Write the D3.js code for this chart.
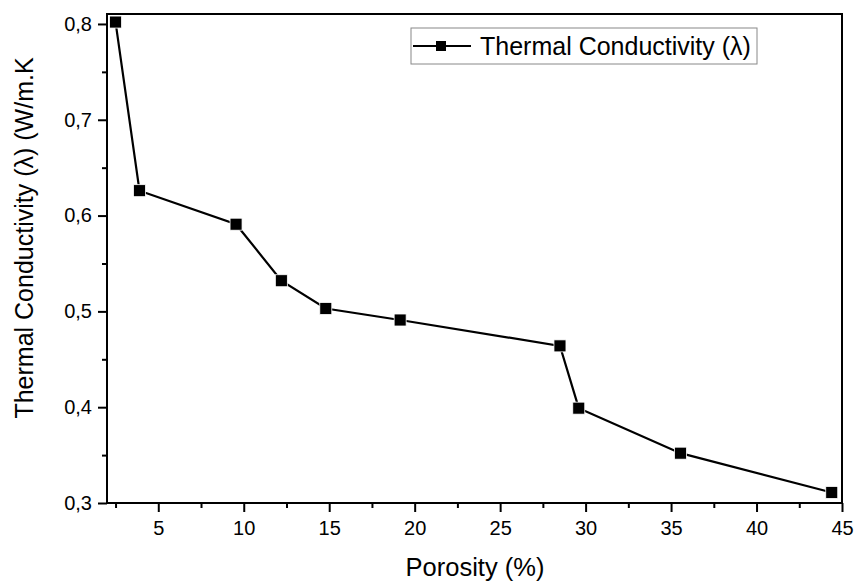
<!DOCTYPE html>
<html>
<head>
<meta charset="utf-8">
<script src="https://cdn.jsdelivr.net/npm/d3@7"></script>
<style>
  body { margin: 0; background: #fff; }
  text { font-family: "Liberation Sans", Arial, sans-serif; fill: #000; }
</style>
</head>
<body>
<div id="chart"></div>
<script>
// data
var porosity = [2.5, 3.9, 9.55, 12.2, 14.8, 19.15, 28.5, 29.6, 35.55, 44.4];
var conductivity = [0.802, 0.626, 0.591, 0.532, 0.503, 0.491, 0.464, 0.399, 0.352, 0.311];
var xTicks = [5, 10, 15, 20, 25, 30, 35, 40, 45];
var yTicks = [0.3, 0.4, 0.5, 0.6, 0.7, 0.8];
var seriesName = "Thermal Conductivity (\u03bb)";

var svgWidth = 856;
var svgHeight = 581;
var margin = { top: 14, right: 14, bottom: 78, left: 107 };
var width = svgWidth - margin.left - margin.right;
var height = svgHeight - margin.top - margin.bottom;

var data = porosity.map(function(p, i) { return { x: p, y: conductivity[i] }; });

var svg = d3.select("#chart")
  .append("svg")
  .attr("width", svgWidth)
  .attr("height", svgHeight);

var chartGroup = svg.append("g")
  .attr("transform", `translate(${margin.left}, ${margin.top})`);

var xScale = d3.scaleLinear().domain([2, 45]).range([0, width]);
var yScale = d3.scaleLinear().domain([0.3, 0.8104]).range([height, 0]);

var fmt = function(d) { return d3.format(".1f")(d).replace(".", ","); };

// minor ticks
var xMinor = d3.range(2.5, 45, 2.5).filter(function(v) { return v % 5 !== 0; });
var yMinor = d3.range(0.35, 0.81, 0.1);

chartGroup.append("g")
  .attr("transform", `translate(0, ${height})`)
  .call(d3.axisBottom(xScale).tickValues(xMinor).tickSize(5).tickFormat(""))
  .call(g => g.select(".domain").remove())
  .selectAll("line").attr("stroke-width", 2);

chartGroup.append("g")
  .call(d3.axisLeft(yScale).tickValues(yMinor).tickSize(5).tickFormat(""))
  .call(g => g.select(".domain").remove())
  .selectAll("line").attr("stroke-width", 2);

// major axes
var xAxis = chartGroup.append("g")
  .attr("transform", `translate(0, ${height})`)
  .call(d3.axisBottom(xScale).tickValues(xTicks).tickSize(9).tickPadding(9).tickSizeOuter(0));
xAxis.selectAll("line").attr("stroke-width", 2);
xAxis.selectAll("text").attr("font-size", 20).style("font-family", "Liberation Sans, Arial, sans-serif");
xAxis.select(".domain").remove();

var yAxis = chartGroup.append("g")
  .call(d3.axisLeft(yScale).tickValues(yTicks).tickSize(9).tickPadding(6).tickFormat(fmt).tickSizeOuter(0));
yAxis.selectAll("line").attr("stroke-width", 2);
yAxis.selectAll("text").attr("font-size", 20).style("font-family", "Liberation Sans, Arial, sans-serif");
yAxis.select(".domain").remove();

// frame
chartGroup.append("rect")
  .attr("x", 0)
  .attr("y", 0)
  .attr("width", width)
  .attr("height", height)
  .attr("fill", "none")
  .attr("stroke", "#000")
  .attr("stroke-width", 2);

// line and markers
var line = d3.line().x(d => xScale(d.x)).y(d => yScale(d.y));

chartGroup.append("path")
  .datum(data)
  .attr("d", line)
  .attr("fill", "none")
  .attr("stroke", "#000")
  .attr("stroke-width", 2.2);

chartGroup.selectAll("rect.marker")
  .data(data)
  .enter()
  .append("rect")
  .attr("class", "marker")
  .attr("x", d => xScale(d.x) - 6)
  .attr("y", d => yScale(d.y) - 6)
  .attr("width", 12)
  .attr("height", 12)
  .attr("fill", "#000")
  .attr("stroke", "#fff")
  .attr("stroke-width", 0.8);

// legend
var legend = svg.append("g").attr("transform", "translate(411, 28)");
legend.append("rect")
  .attr("width", 346)
  .attr("height", 36)
  .attr("fill", "#fff")
  .attr("stroke", "#888")
  .attr("stroke-width", 1);
legend.append("line")
  .attr("x1", 2).attr("x2", 60)
  .attr("y1", 18).attr("y2", 18)
  .attr("stroke", "#000").attr("stroke-width", 2);
legend.append("rect")
  .attr("x", 25).attr("y", 13)
  .attr("width", 10).attr("height", 10)
  .attr("fill", "#000");
legend.append("text")
  .attr("x", 69)
  .attr("y", 27)
  .attr("font-size", 25)
  .text(seriesName);

// axis labels
svg.append("text")
  .attr("x", 475)
  .attr("y", 576)
  .attr("text-anchor", "middle")
  .attr("font-size", 25.5)
  .text("Porosity (%)");

svg.append("text")
  .attr("transform", "rotate(-90)")
  .attr("x", -238)
  .attr("y", 33)
  .attr("text-anchor", "middle")
  .attr("font-size", 25)
  .text("Thermal Conductivity (\u03bb) (W/m.K");
</script>
</body>
</html>
